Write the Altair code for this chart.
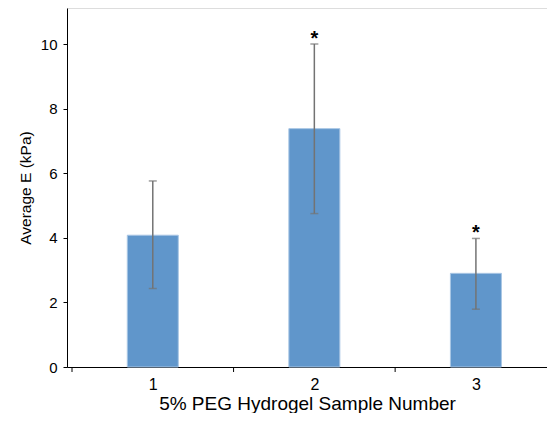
import altair as alt
import pandas as pd

samples = [1, 2, 3]
means = [4.08, 7.38, 2.90]
err_upper = [5.76, 10.0, 3.98]
err_lower = [2.43, 4.75, 1.79]
sig_marks = ["", "*", "*"]
tick_positions = [0.5, 1.5, 2.5]
y_ticks = [0, 2, 4, 6, 8, 10]

df = pd.DataFrame({
    "sample": samples,
    "mean": means,
    "hi": err_upper,
    "lo": err_lower,
    "sig": sig_marks,
})
ticks_df = pd.DataFrame({"pos": tick_positions})

PW, PH = 480, 359          # plot area
px_per_cat = 165
px_per_unit = 32.3

xscale = alt.Scale(domain=[0.5, 0.5 + PW / px_per_cat], nice=False, zero=False)
yscale = alt.Scale(domain=[0, PH / px_per_unit], nice=False, zero=True)

x_axis = alt.Axis(
    values=samples, format="d", tickSize=0, grid=False,
    title="5% PEG Hydrogel Sample Number",
    labelFontSize=16, titleFontSize=19, labelPadding=9, titlePadding=2,
    domainColor="black", labelColor="black", titleColor="black",
    titleFontWeight="normal", labelAngle=0,
)
y_axis = alt.Axis(
    values=y_ticks, tickSize=4, grid=False, title="Average E (kPa)",
    labelFontSize=15, titleFontSize=15.5, labelPadding=6, titlePadding=7,
    domainColor="black", tickColor="black", labelColor="black",
    titleColor="black", titleFontWeight="normal",
)

X = alt.X("sample:Q", scale=xscale, axis=x_axis)

bars = alt.Chart(df).mark_bar(
    size=51, color="#6096CB", stroke="#A9C6E4", strokeWidth=1
).encode(
    x=X,
    y=alt.Y("mean:Q", scale=yscale, axis=y_axis),
)

err = alt.Chart(df).mark_rule(color="#737373", strokeWidth=1.5).encode(
    x=X,
    y=alt.Y("lo:Q", scale=yscale, axis=y_axis),
    y2="hi:Q",
)

cap_hi = alt.Chart(df).mark_tick(
    orient="horizontal", size=8, thickness=1.5, color="#737373"
).encode(x=X, y=alt.Y("hi:Q", scale=yscale, axis=y_axis))

cap_lo = alt.Chart(df).mark_tick(
    orient="horizontal", size=8, thickness=1.5, color="#737373"
).encode(x=X, y=alt.Y("lo:Q", scale=yscale, axis=y_axis))

stars = alt.Chart(df).mark_text(
    fontSize=20, fontWeight="bold", baseline="alphabetic", dy=1, color="black"
).encode(
    x=X,
    y=alt.Y("hi:Q", scale=yscale, axis=y_axis),
    text="sig:N",
)

xticks = alt.Chart(ticks_df).mark_rule(color="black", strokeWidth=1).encode(
    x=alt.X("pos:Q", scale=xscale, axis=x_axis),
    y=alt.value(PH),
    y2=alt.value(PH + 5),
)

chart = alt.layer(bars, err, cap_hi, cap_lo, stars, xticks).properties(
    width=PW, height=PH,
    autosize=alt.AutoSizeParams(type="none"),
    padding={"left": 59, "top": 0, "right": 0, "bottom": 46},
).configure_view(stroke=None).configure(
    font="Liberation Sans"
)

chart.save("out.html", embed_options={"renderer": "svg", "actions": False})
